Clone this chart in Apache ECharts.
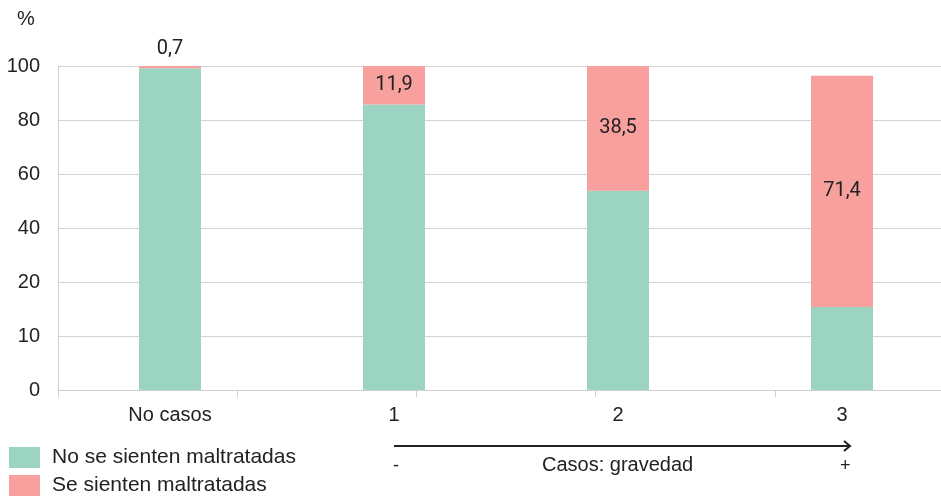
<!DOCTYPE html>
<html>
<head>
<meta charset="utf-8">
<script src="https://cdn.jsdelivr.net/npm/echarts@6/dist/echarts.min.js"></script>
<style>
  html, body { margin: 0; padding: 0; background: #fff; overflow: hidden; }
  #chart { width: 941px; height: 496px; }
</style>
</head>
<body>
<div id="chart"></div>
<script>
// categorías y valores (%)
var categories = ['No casos', '1', '2', '3'];
var noMaltratadas = [99.3, 88.1, 61.5, 25.6];
var siMaltratadas = [0.7, 11.9, 38.5, 71.4];
// etiquetas del eje Y tal como aparecen en el original
var yTickLabels = ['0', '10', '20', '40', '60', '80', '100'];
var step = 100 / 6;

var font = '"Liberation Sans", Arial, sans-serif';
var chart = echarts.init(document.getElementById('chart'));

var legendText = { fontSize: 21, color: '#222', fontFamily: font, padding: [0, 0, 0, 7] };

chart.setOption({
  animation: false,
  textStyle: { fontFamily: font },
  grid: { left: 58, width: 896, top: 66, bottom: 106, outerBoundsMode: 'none', containLabel: false },
  legend: [
    {
      left: 4, top: 442, itemWidth: 31, itemHeight: 21, icon: 'rect',
      textStyle: legendText,
      data: ['No se sienten maltratadas']
    },
    {
      left: 4, top: 470, itemWidth: 31, itemHeight: 21, icon: 'rect',
      textStyle: legendText,
      data: ['Se sienten maltratadas']
    }
  ],
  xAxis: [
    {
      type: 'category',
      data: categories,
      axisLine: { lineStyle: { color: '#cfcfcf' } },
      axisTick: { show: false },
      axisLabel: { color: '#222', fontSize: 20, margin: 15 }
    },
    {
      type: 'category',
      data: ['', '', '', '', ''],
      position: 'bottom',
      axisLine: { show: false },
      axisTick: { show: true, length: 7, lineStyle: { color: '#cfcfcf' } },
      axisLabel: { show: false }
    }
  ],
  yAxis: {
    type: 'value',
    min: 0,
    max: 100,
    interval: step,
    axisLine: { show: true, lineStyle: { color: '#cfcfcf' } },
    axisTick: { show: false },
    splitLine: { lineStyle: { color: '#d3d3d3' } },
    axisLabel: {
      color: '#222',
      fontSize: 20,
      margin: 18,
      formatter: function (v) {
        return yTickLabels[Math.round(v / step)];
      }
    }
  },
  series: [
    {
      name: 'No se sienten maltratadas',
      type: 'bar',
      stack: 'total',
      barWidth: 62,
      itemStyle: { color: '#9BD4C0' },
      data: noMaltratadas
    },
    {
      name: 'Se sienten maltratadas',
      type: 'bar',
      stack: 'total',
      barWidth: 62,
      itemStyle: { color: '#F7A09E' },
      label: {
        show: true,
        position: 'inside',
        color: '#222',
        fontSize: 20,
        fontFamily: 'Roboto, sans-serif',
        formatter: function (p) {
          return String(p.value).replace('.', ',');
        }
      },
      data: siMaltratadas.map(function (v, i) {
        return i === 0 ? { value: v, label: { position: 'top', distance: 7 } } : v;
      })
    }
  ],
  graphic: [
    {
      type: 'text', left: 17, top: 9,
      style: { text: '%', fontSize: 20, fill: '#222', fontFamily: font }
    },
    {
      type: 'line',
      shape: { x1: 394, y1: 446, x2: 849, y2: 446 },
      style: { stroke: '#222', lineWidth: 2 }
    },
    {
      type: 'polyline',
      shape: { points: [[844, 441], [850, 446], [844, 451]] },
      style: { stroke: '#222', lineWidth: 2, fill: null }
    },
    {
      type: 'text', left: 393, top: 457,
      style: { text: '-', fontSize: 18, fill: '#222', fontFamily: font }
    },
    {
      type: 'text', left: 542, top: 455,
      style: { text: 'Casos: gravedad', fontSize: 20, fill: '#222', fontFamily: font }
    },
    {
      type: 'text', left: 840, top: 457,
      style: { text: '+', fontSize: 18, fill: '#222', fontFamily: font }
    }
  ]
});
</script>
</body>
</html>
